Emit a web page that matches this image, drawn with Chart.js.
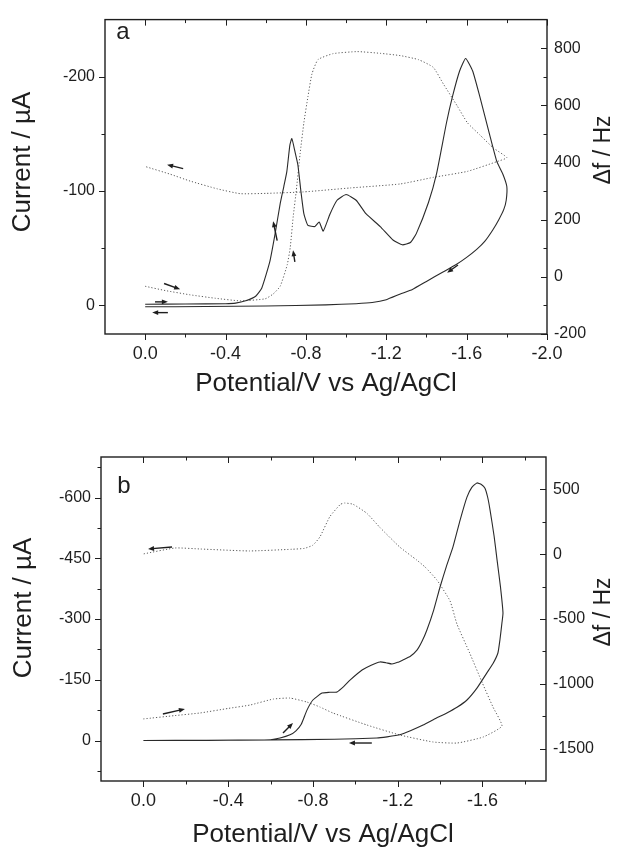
<!DOCTYPE html>
<html><head><meta charset="utf-8">
<script src="https://cdn.jsdelivr.net/npm/chart.js@4/dist/chart.umd.min.js"></script>
<style>
html,body{margin:0;padding:0;background:#fff;}
#wrap{position:relative;width:618px;height:851px;background:#fff;}
canvas{position:absolute;left:0;}
#ca{top:0}
#cb{top:425px}
</style></head><body>
<div id="wrap"><canvas id="ca" width="618" height="425"></canvas><canvas id="cb" width="618" height="426"></canvas></div>
<script>
// ---------- Panel a : current (µA) vs potential (V) ----------
const potA_I = [0.0, -0.2, -0.4, -0.45, -0.5, -0.55, -0.58, -0.62, -0.647, -0.672, -0.69, -0.705, -0.72, -0.73, -0.745, -0.76, -0.775, -0.79, -0.81, -0.845, -0.866, -0.886, -0.92, -0.955, -1.0, -1.05, -1.1, -1.17, -1.235, -1.28, -1.32, -1.35, -1.41, -1.45, -1.5, -1.53, -1.565, -1.595, -1.63, -1.665, -1.715, -1.75, -1.78, -1.8, -1.797, -1.785, -1.76, -1.73, -1.69, -1.65, -1.6, -1.55, -1.48, -1.4, -1.33, -1.27, -1.2, -1.13, -1.05, -0.9, -0.6, -0.3, 0.0];
const curA   = [-1, -1.2, -1.5, -2, -4, -8, -15, -38, -63, -89, -104, -117, -140, -146, -135, -123, -100, -80, -70, -69, -73, -65, -80, -92, -97, -92, -80, -69, -57, -53, -55, -63, -90, -115, -160, -183, -205, -216, -205, -183, -149, -126, -115, -104, -92, -84, -75, -66, -56, -49, -42, -36, -29, -21, -14, -10, -5, -2.5, -1.5, -0.5, 0.5, 1, 1.2];
// Panel a : frequency shift (Hz)
const potA_f = [0.0, -0.1, -0.224, -0.35, -0.473, -0.597, -0.637, -0.672, -0.707, -0.722, -0.737, -0.752, -0.771, -0.79, -0.81, -0.83, -0.86, -0.936, -1.056, -1.17, -1.27, -1.36, -1.434, -1.484, -1.554, -1.604, -1.668, -1.733, -1.8, -1.75, -1.604, -1.434, -1.27, -1.021, -0.786, -0.6, -0.473, -0.358, -0.224, -0.125, 0.0];
const dfA    = [-33, -48, -63, -75, -84, -77, -60, -33, 42, 103, 212, 301, 430, 540, 630, 710, 760, 781, 788, 782, 774, 760, 733, 675, 597, 539, 495, 451, 417, 403, 369, 348, 325, 311, 297, 292, 291, 308, 335, 359, 386];
// Panel a : scan-direction arrows [x1, y1, x2, y2] (V, µA), head at (x2, y2)
const arrowsA = [[-0.189, -119.7, -0.109, -123.1], [-0.094, -19.2, -0.174, -14.1], [-0.049, -3.1, -0.113, -3.1], [-0.113, 6.3, -0.035, 6.3], [-0.657, -56.7, -0.637, -73.7], [-0.745, -38, -0.736, -48.2], [-1.557, -35.4, -1.503, -28.6]];
// Panel a : ticks
const xMajorA = [0.0, -0.4, -0.8, -1.2, -1.6, -2.0];
const xMinorA = [-0.2, -0.6, -1.0, -1.4, -1.8];
const yMajorA = [-200, -100, 0];
const yMinorA = [-150, -50];
const y2MajorA = [800, 600, 400, 200, 0, -200];
const y2MinorA = [700, 500, 300, 100, -100];

// ---------- Panel b ----------
const potB_I = [0.0, -0.3, -0.5, -0.6, -0.645, -0.692, -0.72, -0.745, -0.772, -0.80, -0.843, -0.88, -0.914, -0.945, -0.975, -1.032, -1.075, -1.117, -1.145, -1.173, -1.2, -1.225, -1.26, -1.291, -1.315, -1.338, -1.37, -1.40, -1.43, -1.461, -1.495, -1.527, -1.55, -1.574, -1.595, -1.612, -1.625, -1.636, -1.655, -1.669, -1.685, -1.697, -1.692, -1.683, -1.673, -1.65, -1.621, -1.575, -1.527, -1.48, -1.432, -1.37, -1.32, -1.26, -1.21, -1.15, -1.102, -0.9, -0.6, -0.3, 0.0];
const curB   = [0, 0, -1, -2, -6, -14, -24, -40, -75, -100, -117, -119, -120, -133, -149, -174, -186, -194, -192, -189, -193, -199, -208, -223, -245, -273, -322, -379, -430, -478, -545, -601, -625, -636, -632, -623, -600, -569, -505, -446, -380, -315, -290, -250, -216, -190, -167, -130, -100, -82, -68, -52, -38, -24, -14, -9, -6, -3, -1.5, -0.5, 0];
const potB_f = [0.0, -0.15, -0.268, -0.4, -0.503, -0.612, -0.692, -0.772, -0.833, -0.894, -1.055, -1.21, -1.367, -1.48, -1.603, -1.692, -1.65, -1.60, -1.54, -1.48, -1.447, -1.385, -1.33, -1.29, -1.21, -1.117, -1.055, -0.99, -0.95, -0.93, -0.88, -0.833, -0.80, -0.76, -0.70, -0.5, -0.27, -0.15, 0.0];
const dfB    = [-1271, -1245, -1225, -1190, -1164, -1118, -1110, -1141, -1179, -1225, -1318, -1395, -1449, -1457, -1411, -1326, -1180, -995, -763, -540, -360, -199, -100, -45, 55, 205, 315, 385, 395, 385, 290, 133, 70, 45, 38, 25, 40, 48, 2];
const arrowsB = [[-0.135, -477.8, -0.022, -472.8], [-0.092, -65.4, -0.196, -77.8], [-0.659, -18.5, -0.706, -43.2], [-1.078, 6.2, -0.970, 6.2]];
const xMajorB = [0.0, -0.4, -0.8, -1.2, -1.6];
const xMinorB = [-0.2, -0.6, -1.0, -1.4, -1.8];
const yMajorB = [-600, -450, -300, -150, 0];
const yMinorB = [-675, -525, -375, -225, -75, 75];
const y2MajorB = [500, 0, -500, -1000, -1500];
const y2MinorB = [250, -250, -750, -1250];

const FONT = "'Liberation Sans', Arial, Helvetica, sans-serif";
const INK = '#1e1e1e';

function pts(xs, ys) { return xs.map((x, i) => ({ x: x, y: ys[i] })); }

function drawArrow(ctx, x1, y1, x2, y2) {
  const a = Math.atan2(y2 - y1, x2 - x1), L = 6, W = 2.4;
  ctx.beginPath();
  ctx.moveTo(x1, y1);
  ctx.lineTo(x2 - L * 0.7 * Math.cos(a), y2 - L * 0.7 * Math.sin(a));
  ctx.stroke();
  ctx.beginPath();
  ctx.moveTo(x2, y2);
  ctx.lineTo(x2 - L * Math.cos(a) + W * Math.sin(a), y2 - L * Math.sin(a) - W * Math.cos(a));
  ctx.lineTo(x2 - L * Math.cos(a) - W * Math.sin(a), y2 - L * Math.sin(a) + W * Math.cos(a));
  ctx.closePath();
  ctx.fill();
}

const frameTicks = {
  id: 'frameTicks',
  afterDraw(chart, args, o) {
    const { ctx, chartArea: { left, right, top, bottom }, scales } = chart;
    const xs = scales.x, yl = scales.y, yr = scales.y2;
    ctx.save();
    ctx.strokeStyle = INK; ctx.fillStyle = INK; ctx.lineWidth = 1;
    ctx.beginPath();
    const px = v => Math.round(xs.getPixelForValue(v)) + 0.5;
    const pyl = v => Math.round(yl.getPixelForValue(v)) + 0.5;
    const pyr = v => Math.round(yr.getPixelForValue(v)) + 0.5;
    o.xMajor.forEach(v => { const p = px(v); ctx.moveTo(p, bottom); ctx.lineTo(p, bottom + 6); ctx.moveTo(p, top); ctx.lineTo(p, top + 6); });
    o.xMinor.forEach(v => { const p = px(v); ctx.moveTo(p, bottom); ctx.lineTo(p, bottom + 3.5); ctx.moveTo(p, top); ctx.lineTo(p, top + 3.5); });
    o.yMajor.forEach(v => { const p = pyl(v); ctx.moveTo(left, p); ctx.lineTo(left - 6, p); });
    o.yMinor.forEach(v => { const p = pyl(v); ctx.moveTo(left, p); ctx.lineTo(left - 3.5, p); });
    o.y2Major.forEach(v => { const p = pyr(v); ctx.moveTo(right, p); ctx.lineTo(right - 6, p); });
    o.y2Minor.forEach(v => { const p = pyr(v); ctx.moveTo(right, p); ctx.lineTo(right - 3.5, p); });
    ctx.stroke();
    ctx.lineWidth = 1.4;
    ctx.strokeRect(left, top, right - left, bottom - top);
    // arrows
    ctx.lineWidth = 1.4;
    o.arrows.forEach(a => drawArrow(ctx, xs.getPixelForValue(a[0]), yl.getPixelForValue(a[1]), xs.getPixelForValue(a[2]), yl.getPixelForValue(a[3])));
    // texts
    ctx.textAlign = 'center';
    ctx.font = '24px ' + FONT;
    ctx.textBaseline = 'alphabetic';
    ctx.fillText(o.label, o.labelPos[0], o.labelPos[1]);
    ctx.textBaseline = 'middle';
    ctx.font = '26px ' + FONT;
    ctx.fillText('Potential/V vs Ag/AgCl', o.xTitle[0], o.xTitle[1]);
    ctx.save();
    ctx.translate(o.yTitle[0], o.yTitle[1]); ctx.rotate(-Math.PI / 2);
    ctx.fillText('Current / \u00B5A', 0, 0);
    ctx.restore();
    ctx.save();
    ctx.font = '23px ' + FONT;
    ctx.translate(o.y2Title[0], o.y2Title[1]); ctx.rotate(-Math.PI / 2);
    ctx.fillText('\u0394f / Hz', 0, 0);
    ctx.restore();
    ctx.restore();
  }
};

function makeChart(id, c) {
  const tickFont = { family: FONT, size: 16 };
  return new Chart(document.getElementById(id), {
    type: 'scatter',
    data: {
      datasets: [
        { data: pts(c.potI, c.cur), yAxisID: 'y', showLine: true, borderColor: '#2a2a2a', borderWidth: 1.1, pointRadius: 0, tension: 0.15 },
        { data: pts(c.potF, c.df), yAxisID: 'y2', showLine: true, borderColor: '#5a5a5a', borderWidth: 1, borderDash: [1.2, 2], pointRadius: 0, tension: 0.15 }
      ]
    },
    options: {
      responsive: false, animation: false, devicePixelRatio: 1,
      layout: { padding: { top: c.padTop, left: 0, right: 0, bottom: 0 } },
      plugins: { legend: { display: false }, tooltip: { enabled: false }, frameTicks: c.deco },
      scales: {
        x: {
          type: 'linear', position: 'bottom', min: c.xMin, max: 0.2, reverse: true,
          grid: { display: false, drawTicks: false }, border: { display: false },
          afterBuildTicks: s => { s.ticks = c.deco.xMajor.map(v => ({ value: v })); },
          afterFit: s => { s.height = c.xH; },
          ticks: { font: { family: FONT, size: 18 }, color: INK, padding: 9, maxRotation: 0, autoSkip: false, callback: v => Number(v).toFixed(1) }
        },
        y: {
          type: 'linear', position: 'left', min: c.yMin, max: c.yMax, reverse: true,
          grid: { display: false, drawTicks: false }, border: { display: false },
          afterBuildTicks: s => { s.ticks = c.deco.yMajor.map(v => ({ value: v })); },
          afterFit: s => { s.width = c.yW; },
          ticks: { font: tickFont, color: INK, padding: 10, autoSkip: false, callback: v => String(v) }
        },
        y2: {
          type: 'linear', position: 'right', min: c.y2Min, max: c.y2Max,
          grid: { display: false, drawTicks: false }, border: { display: false },
          afterBuildTicks: s => { s.ticks = c.deco.y2Major.map(v => ({ value: v })); },
          afterFit: s => { s.width = c.y2W; },
          ticks: { font: tickFont, color: INK, padding: 7, autoSkip: false, callback: v => String(v) }
        }
      }
    },
    plugins: [frameTicks]
  });
}

makeChart('ca', {
  potI: potA_I, cur: curA, potF: potA_f, df: dfA,
  xMin: -2.0, yMin: -250, yMax: 25, y2Min: -200, y2Max: 900,
  padTop: 11, yW: 105, y2W: 71, xH: 91,
  deco: { xMajor: xMajorA, xMinor: xMinorA, yMajor: yMajorA, yMinor: yMinorA, y2Major: y2MajorA, y2Minor: y2MinorA,
          arrows: arrowsA, label: 'a', labelPos: [123, 39], xTitle: [326, 384], yTitle: [23, 162], y2Title: [604, 150] }
});
makeChart('cb', {
  potI: potB_I, cur: curB, potF: potB_f, df: dfB,
  xMin: -1.9, yMin: -700, yMax: 100, y2Min: -1750, y2Max: 750,
  padTop: 32, yW: 101, y2W: 72, xH: 70,
  deco: { xMajor: xMajorB, xMinor: xMinorB, yMajor: yMajorB, yMinor: yMinorB, y2Major: y2MajorB, y2Minor: y2MinorB,
          arrows: arrowsB, label: 'b', labelPos: [124, 68], xTitle: [323, 410], yTitle: [24, 183], y2Title: [604, 187] }
});
</script>
</body></html>
